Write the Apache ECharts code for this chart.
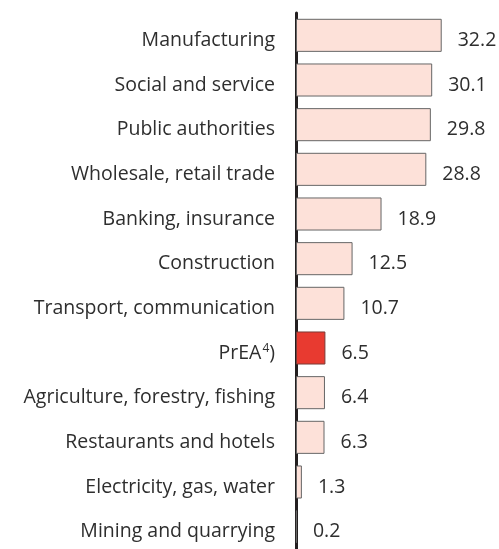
<!DOCTYPE html>
<html>
<head>
<meta charset="utf-8">
<script src="https://cdn.jsdelivr.net/npm/echarts@6/dist/echarts.min.js"></script>
<style>
  html, body { margin: 0; padding: 0; background: #ffffff; }
  #chart { width: 499px; height: 549px; }
</style>
</head>
<body>
<div id="chart"></div>
<script>
// Sectors, top to bottom
const categories = [
  'Manufacturing',
  'Social and service',
  'Public authorities',
  'Wholesale, retail trade',
  'Banking, insurance',
  'Construction',
  'Transport, communication',
  'PrEA',
  'Agriculture, forestry, fishing',
  'Restaurants and hotels',
  'Electricity, gas, water',
  'Mining and quarrying'
];
const values = [32.2, 30.1, 29.8, 28.8, 18.9, 12.5, 10.7, 6.5, 6.4, 6.3, 1.3, 0.2];
const highlighted = 'PrEA';

const FONT = '"Open Sans", sans-serif';
const TEXT = '#2e2e2e';
const SIZE = 19.5;

const chart = echarts.init(document.getElementById('chart'), null, { renderer: 'canvas' });

chart.setOption({
  animation: false,
  backgroundColor: '#ffffff',
  grid: { left: 296, right: 22, top: 13, bottom: -5, containLabel: false },
  xAxis: {
    type: 'value',
    min: 0,
    max: 40,
    show: false
  },
  yAxis: {
    type: 'category',
    inverse: true,
    data: categories,
    axisLine: { show: true, lineStyle: { color: '#231f20', width: 3 } },
    axisTick: { show: false },
    axisLabel: {
      margin: 21,
      color: TEXT,
      fontFamily: FONT,
      fontSize: SIZE,
      padding: [10, 0, 0, 0],
      formatter: function (v) {
        return v === highlighted ? v + '{sup|4}' + ')' : v;
      },
      rich: {
        sup: { fontSize: 12, fontFamily: FONT, color: TEXT, verticalAlign: 'top', padding: [0, 0, 9, 1] }
      }
    },
    splitLine: { show: false }
  },
  series: [{
    type: 'bar',
    barCategoryGap: '26%',
    data: values.map(function (v, i) {
      const hi = categories[i] === highlighted;
      return {
        value: v,
        itemStyle: hi
          ? { color: '#e83a30', borderColor: '#7a3b36', borderWidth: 1 }
          : { color: '#fde1d9', borderColor: '#666666', borderWidth: 1 }
      };
    }),
    label: {
      show: true,
      position: 'right',
      distance: 16,
      offset: [0, 5],
      color: TEXT,
      fontFamily: FONT,
      fontSize: SIZE,
      formatter: function (p) { return p.value.toFixed(1); }
    }
  }]
});
</script>
</body>
</html>
